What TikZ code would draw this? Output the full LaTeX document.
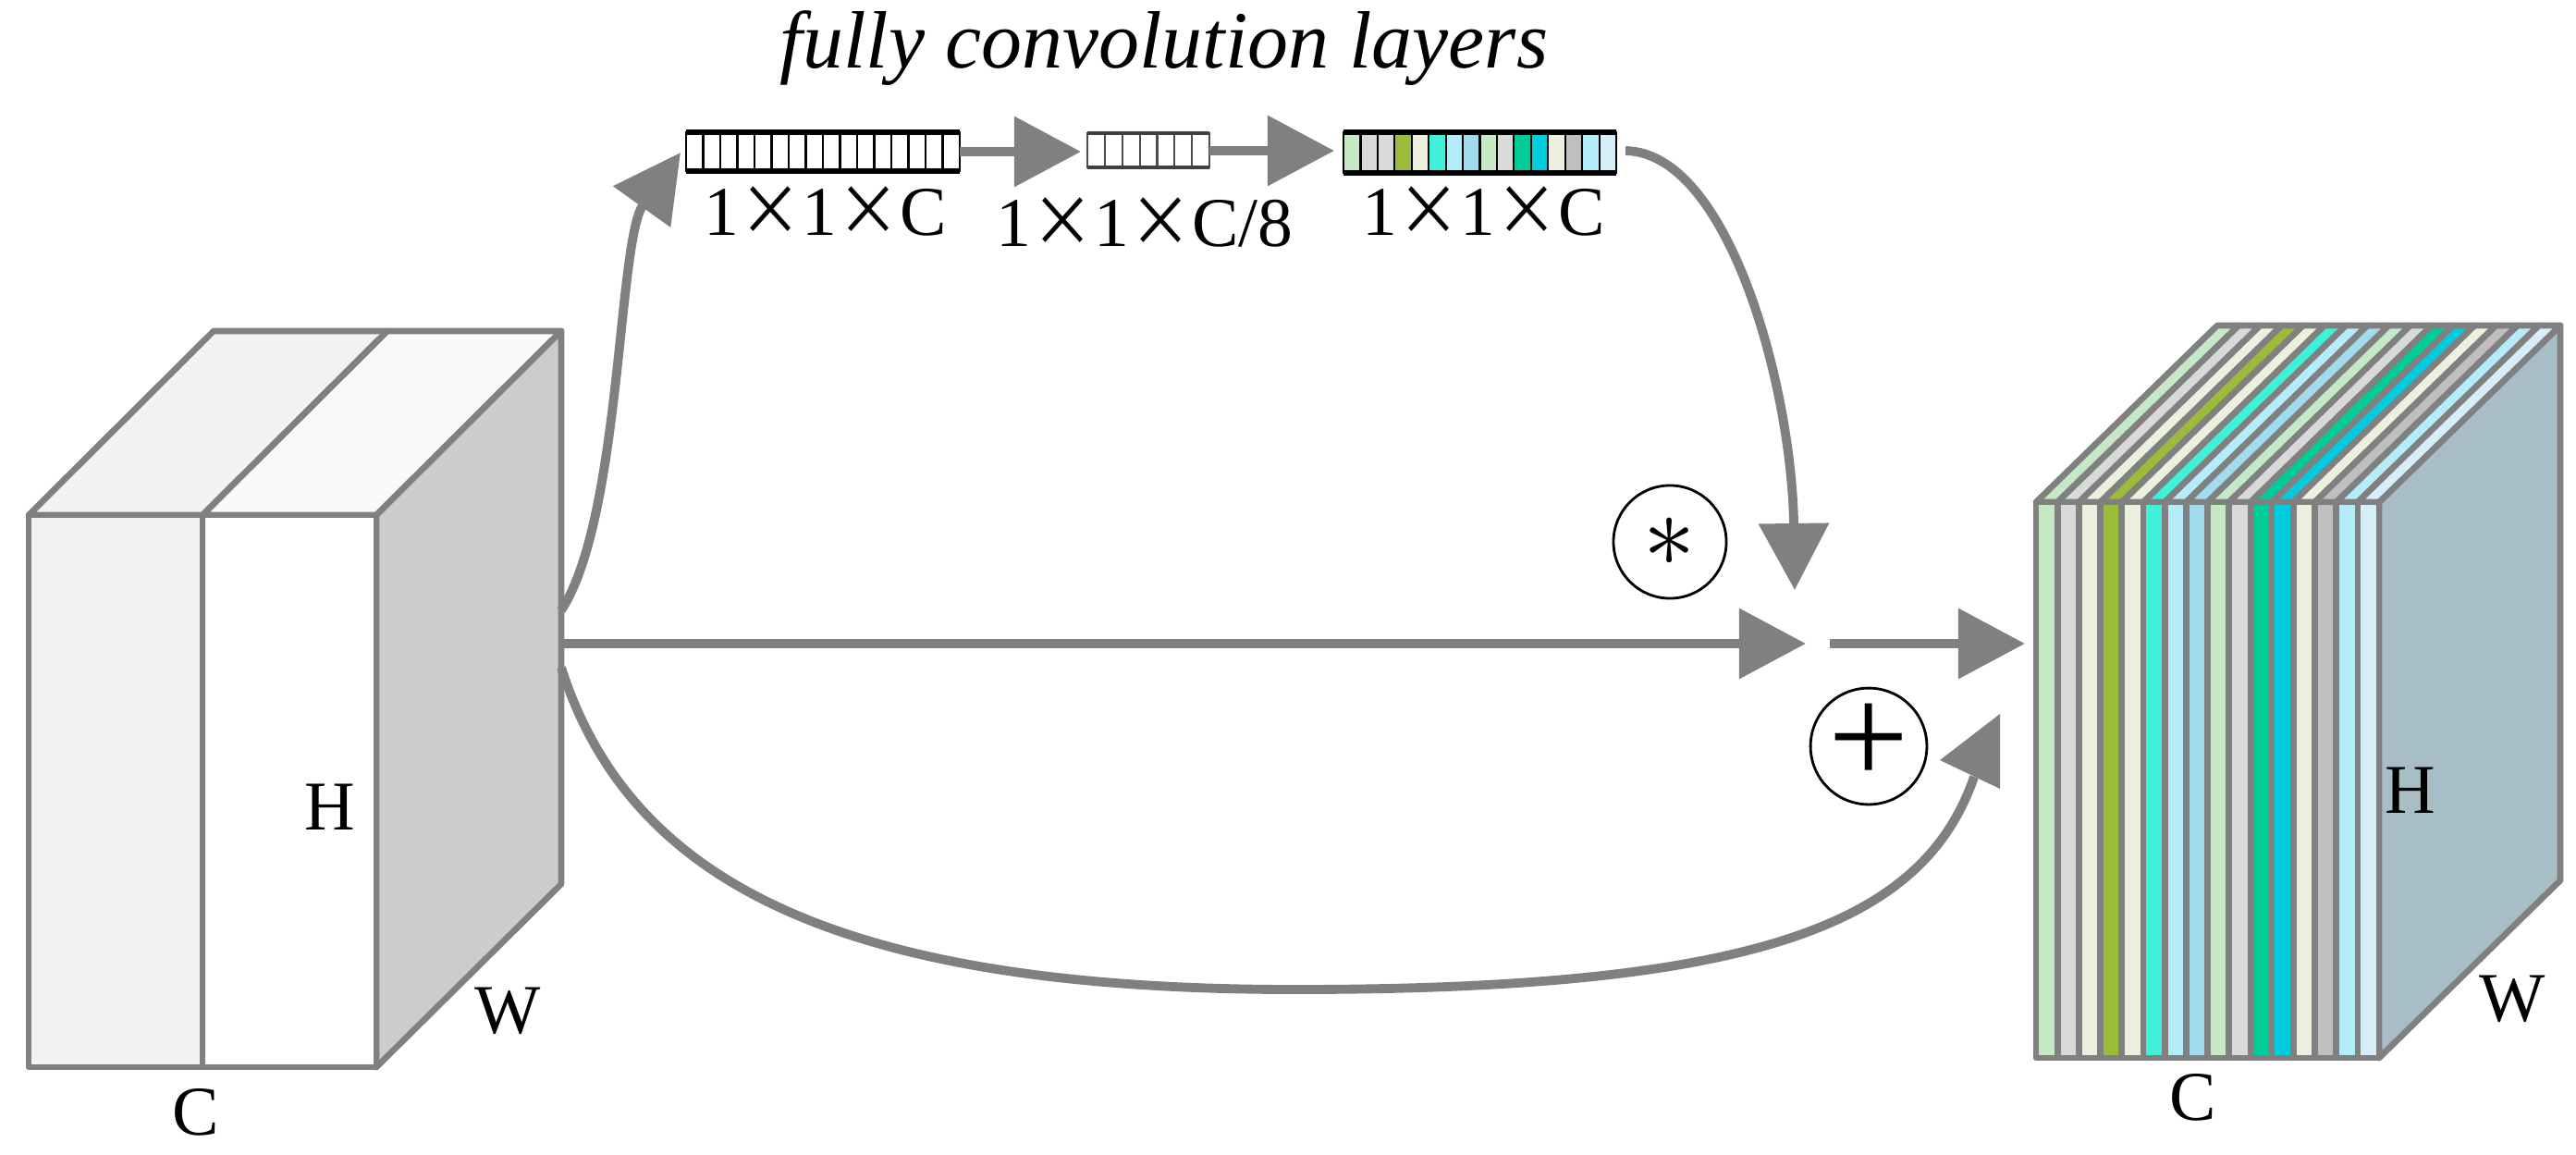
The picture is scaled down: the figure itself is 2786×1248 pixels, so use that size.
\documentclass[tikz,border=0pt]{standalone}
\usepackage{fontspec}
\setmainfont{Liberation Serif}
\newfontfamily\cjk{Noto Sans CJK SC}
\usetikzlibrary{arrows.meta}
\definecolor{ag}{HTML}{808080}
\definecolor{sA}{HTML}{C5E8C5}\definecolor{sB}{HTML}{D9D9D9}\definecolor{sC}{HTML}{EBF1DE}
\definecolor{sD}{HTML}{9BBB3B}\definecolor{sE}{HTML}{40F0D8}\definecolor{sF}{HTML}{B4ECFA}
\definecolor{sG}{HTML}{A0DCEE}\definecolor{sH}{HTML}{00CC99}\definecolor{sI}{HTML}{00CCDD}
\definecolor{sJ}{HTML}{BFBFBF}\definecolor{sK}{HTML}{D5EEF8}\definecolor{side}{HTML}{A7BEC6}
\newcommand{\xx}{{\cjk\scalebox{0.9}[1]{×}}}
\begin{document}
\begin{tikzpicture}[x=0.01cm,y=-0.01cm,
  fnt/.style={font=\fontsize{21.5}{24}\selectfont, inner sep=0pt},
  conn/.style={draw=ag, line width=2.8pt, -{Triangle[length=0.72cm,width=0.74cm]}},
  op/.style={circle, draw=black, line width=0.8pt, minimum size=1.22cm, inner sep=0pt}]
\useasboundingbox (0,0) rectangle (2786,1248);
\tikzset{bl/.style={draw=ag, line width=1.9pt, line join=round}}
% left block
\fill[fill=black!5, bl] (31,557) -- (231,358) -- (419,358) -- (219,557) -- cycle;
\fill[fill=black!2, bl] (219,557) -- (419,358) -- (607,358) -- (407,557) -- cycle;
\fill[fill=black!20, bl] (407,557) -- (607,358) -- (607,956) -- (407,1154) -- cycle;
\fill[fill=black!5, bl] (31,557) rectangle (219,1154);
\fill[fill=white, bl] (219,557) rectangle (407,1154);
\node[fnt] (lH) at (357,873) {H};
\node[fnt] (lW) at (549,1093) {W};
\node[fnt] (lC) at (212,1203) {C};
\coordinate (src) at (607,696);
\coordinate (srcT) at (607,660);
\coordinate (srcB) at (607,722);
% right block
\fill[fill=side, bl] (2573,543) -- (2769,352) -- (2769,952) -- (2573,1144) -- cycle;
\foreach \c [count=\i from 0] in {sA,sB,sC,sD,sC,sE,sF,sG,sA,sB,sH,sI,sC,sJ,sF,sK}{
  \pgfmathsetmacro{\xa}{2202+\i*23.19}
  \pgfmathsetmacro{\xb}{\xa+23.19}
  \fill[fill=\c, bl] (\xa,543) -- (\xa+196,352) -- (\xb+196,352) -- (\xb,543) -- cycle;
  \fill[fill=\c, bl] (\xa,543) rectangle (\xb,1144);
}
\node[fnt] (rH) at (2607,855) {H};
\node[fnt] (rW) at (2717,1080) {W};
\node[fnt] (rC) at (2372,1187) {C};
\coordinate (dst) at (2190,696);
% bars
\tikzset{cellw/.style={draw=black, line width=0.6pt}}
\foreach \i in {0,...,15}{\draw[cellw, fill=white] (742+\i*18.5,143) rectangle (760.5+\i*18.5,185);}
\draw[black, line width=1.5pt] (742,143) -- (1038,143) (742,185) -- (1038,185);
\foreach \i in {0,...,6}{\draw[draw=black!70, line width=0.6pt, fill=white] (1176+\i*18.86,144) rectangle (1194.86+\i*18.86,181);}
\draw[black!75, line width=1.2pt] (1176,144) -- (1308,144) (1176,181) -- (1308,181);
\foreach \c [count=\i from 0] in {sA,sB,sB,sD,sC,sE,sF,sG,sA,sB,sH,sI,sC,sJ,sF,sK}{
  \draw[cellw, fill=\c] (1453+\i*18.44,143) rectangle (1471.44+\i*18.44,187);}
\draw[black, line width=1.5pt] (1453,143) -- (1748,143) (1453,187) -- (1748,187);
\coordinate (b1r) at (1038,164);
\coordinate (b2r) at (1308,163);
\coordinate (b3r) at (1758,163);
\node[fnt] (t1) at (893,228) {1\xx1\xx C};
\node[fnt] (t2) at (1238,240) {1\xx1\xx C/8};
\node[fnt] (t3) at (1605,228) {1\xx1\xx C};
\node[inner sep=0pt, font=\fontsize{25}{28}\selectfont\itshape] (title) at (1259,52) {fully convolution layers};
% operators
\node[op] (mul) at (1806,586) {};
\node at (1806,586) {\raisebox{-0.62ex}{\scalebox{3.2}{$\ast$}}};
\node[op] (add) at (2021,807) {\fontsize{44}{44}\selectfont\raisebox{1pt}{+}};
% connectors
\draw[conn] (srcT) .. controls (672,560) and (668,260) .. (736,165);
\draw[conn] (src) -- (1953,696);
\draw[conn] (1979,696) -- (dst);
\draw[conn] (b1r) -- (1169,164);
\draw[conn] (b2r) -- (1443,163);
\draw[conn] (b3r) .. controls (1870,165) and (1938,420) .. (1941,638);
\draw[draw=ag, line width=2.8pt] (srcB) .. controls (680,950) and (900,1070) .. (1400,1070) .. controls (1900,1070) and (2080,1000) .. (2135,840);
\fill[ag] (2098,822) -- (2163,772) -- (2163,853) -- cycle;
\end{tikzpicture}
\end{document}
